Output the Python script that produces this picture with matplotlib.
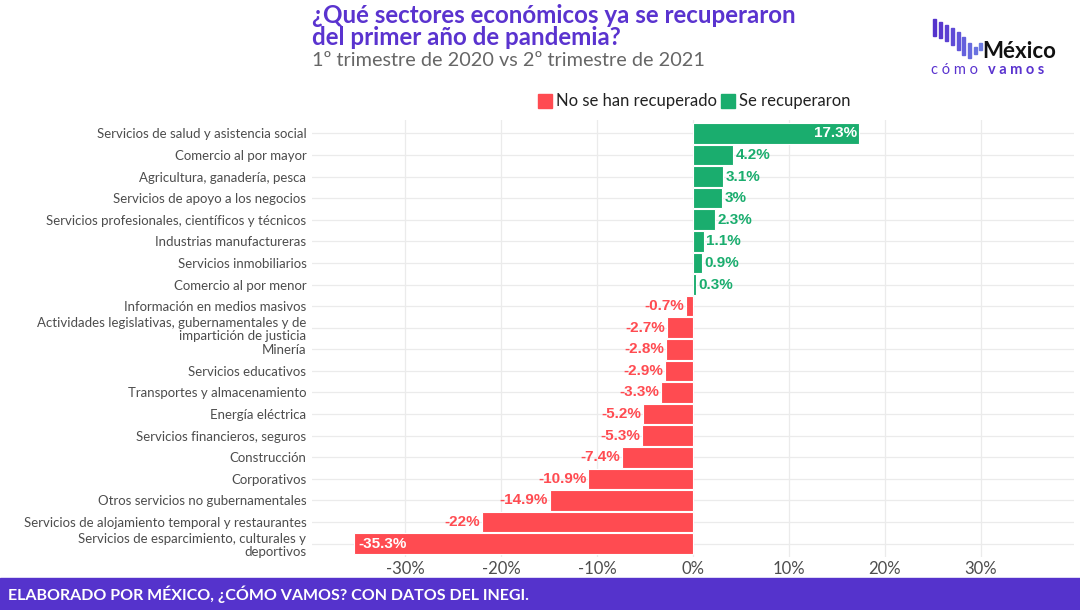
import numpy as np
import matplotlib.pyplot as plt
from matplotlib.patches import Rectangle

# Data (top to bottom as shown)
sectors = [
    "Servicios de salud y asistencia social",
    "Comercio al por mayor",
    "Agricultura, ganadería, pesca",
    "Servicios de apoyo a los negocios",
    "Servicios profesionales, científicos y técnicos",
    "Industrias manufactureras",
    "Servicios inmobiliarios",
    "Comercio al por menor",
    "Información en medios masivos",
    "Actividades legislativas, gubernamentales y de\nimpartición de justicia",
    "Minería",
    "Servicios educativos",
    "Transportes y almacenamiento",
    "Energía eléctrica",
    "Servicios financieros, seguros",
    "Construcción",
    "Corporativos",
    "Otros servicios no gubernamentales",
    "Servicios de alojamiento temporal y restaurantes",
    "Servicios de esparcimiento, culturales y\ndeportivos",
]
values = [17.3, 4.2, 3.1, 3.0, 2.3, 1.1, 0.9, 0.3, -0.7, -2.7, -2.8, -2.9,
          -3.3, -5.2, -5.3, -7.4, -10.9, -14.9, -22.0, -35.3]
labels = ["17.3%", "4.2%", "3.1%", "3%", "2.3%", "1.1%", "0.9%", "0.3%",
          "-0.7%", "-2.7%", "-2.8%", "-2.9%", "-3.3%", "-5.2%", "-5.3%",
          "-7.4%", "-10.9%", "-14.9%", "-22%", "-35.3%"]

RED = "#FF4B51"
GREEN = "#1AAD6E"
PURPLE = "#5A33CF"

plt.rcParams['font.family'] = ['Lato', 'DejaVu Sans']

fig = plt.figure(figsize=(10.8, 6.1), dpi=100)
ax = fig.add_axes([312 / 1080, 1 - 557 / 610, (1074 - 312) / 1080, (557 - 120) / 610])

n = len(sectors)
y = np.arange(n)[::-1]
colors = [GREEN if v > 0 else RED for v in values]
ax.barh(y, values, height=0.95, color=colors, edgecolor="white", linewidth=0.8, zorder=3)

for yi, v, lab, c in zip(y, values, labels, colors):
    kw = dict(va="center", fontsize=11, fontweight="bold", family="Liberation Sans", zorder=4)
    if v > 10:
        ax.text(v - 0.2, yi, lab, ha="right", color="white", **kw)
    elif v < -30:
        ax.text(v + 0.4, yi, lab, ha="left", color="white", **kw)
    elif v > 0:
        ax.text(v + 0.3, yi, lab, ha="left", color=c, **kw)
    else:
        ax.text(v - 0.2, yi, lab, ha="right", color=c, **kw)

ax.set_xlim(-39.7, 39.7)
ax.set_ylim(-0.62, n - 0.38)
ax.set_yticks(y)
ax.set_yticklabels(sectors, fontsize=9.5, color="#4D4D4D", linespacing=1.12)
ax.set_xticks([-30, -20, -10, 0, 10, 20, 30])
ax.set_xticklabels(["-30%", "-20%", "-10%", "0%", "10%", "20%", "30%"],
                   fontsize=12, color="#4D4D4D")
ax.tick_params(length=0, pad=4)
ax.tick_params(axis="x", pad=3)
ax.grid(True, color="#EBEBEB", linewidth=0.9, zorder=0)
for s in ax.spines.values():
    s.set_visible(False)

# Legend
fig.patches.append(Rectangle((538 / 1080, 1 - 108 / 610), 14 / 1080, 14 / 610,
                             transform=fig.transFigure, color=RED))
fig.text(556 / 1080, 1 - 101 / 610, "No se han recuperado", fontsize=12,
         color="#222222", va="center")
fig.patches.append(Rectangle((721 / 1080, 1 - 108 / 610), 14 / 1080, 14 / 610,
                             transform=fig.transFigure, color=GREEN))
fig.text(739 / 1080, 1 - 101 / 610, "Se recuperaron", fontsize=12,
         color="#222222", va="center")

# Titles
fig.text(312 / 1080, 1 - 4 / 610, "¿Qué sectores económicos ya se recuperaron\ndel primer año de pandemia?",
         fontsize=17.4, fontweight="bold", color=PURPLE, va="top", linespacing=0.95)
fig.text(312 / 1080, 1 - 61 / 610, "1º trimestre de 2020 vs 2º trimestre de 2021",
         fontsize=14.3, color="#666666", va="center")

# Logo
bar_x = [933, 939, 945, 951, 957, 962, 968, 974, 979]
bar_top = [19, 22, 25, 28, 32, 37, 43, 47, 43]
bar_bot = [36, 38, 41, 45, 50, 55, 58, 54, 50]
logo_cols = ["#5533CC", "#5838CE", "#5B40D2", "#5E4AD6", "#6155D9", "#6460DC", "#676ADE", "#6A73E0", "#6D7BE2"]
for bx, bt, bb, bc in zip(bar_x, bar_top, bar_bot, logo_cols):
    fig.patches.append(Rectangle((bx / 1080, 1 - bb / 610), 3 / 1080, (bb - bt) / 610,
                                 transform=fig.transFigure, color=bc))
fig.text(982 / 1080, 1 - 52 / 610, "México", fontsize=16, fontweight="bold",
         color="#111111", va="center")
fig.text(931 / 1080, 1 - 70 / 610, "c ó m o", fontsize=10.5, color=PURPLE, va="center")
fig.text(988 / 1080, 1 - 70 / 610, "v a m o s", fontsize=10.5, fontweight="bold",
         color=PURPLE, va="center")

# Footer
fig.patches.append(Rectangle((0, 0), 1, 32 / 610, transform=fig.transFigure, color="#5533CC"))
fig.text(8 / 1080, 16 / 610, "ELABORADO POR MÉXICO, ¿CÓMO VAMOS? CON DATOS DEL INEGI.",
         fontsize=11.5, fontweight="bold", color="white", va="center")

fig.savefig("out.png", dpi=100)
